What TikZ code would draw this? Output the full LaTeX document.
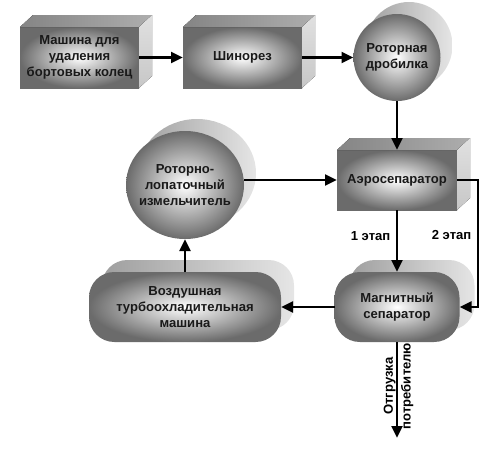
\documentclass[tikz,border=0pt]{standalone}
\usepackage{fontspec}
\setmainfont{Liberation Sans}
\newcommand*{\schemefont}{\fontsize{9.8}{12}\selectfont\bfseries}
\usetikzlibrary{arrows.meta}
\usetikzlibrary{positioning}
\usetikzlibrary{shapes.geometric}
\tikzstyle{base}=[inner sep=0pt, outer sep=0pt, x=0.75pt, y=-0.75pt]
\tikzstyle{front}=[inner color=white, outer color=black!58, align=center, text=black!90]
\tikzstyle{boxtop}=[left color=black!48, right color=black!32]
\tikzstyle{boxside}=[top color=black!12, bottom color=black!22]
\tikzstyle{back}=[left color=black!38, right color=black!10]
\tikzstyle{flow}=[line width=2.1pt, -{Triangle[length=9pt,width=8pt]}]
% top and right faces of a box node
\newcommand*{\boxfaces}[1]{%
    \fill [boxtop] (#1.north west) -- ([shift={(13,-12)}]#1.north west)
        -- ([shift={(13,-12)}]#1.north east) -- (#1.north east) -- cycle;
    \fill [boxside] (#1.north east) -- ([shift={(13,-12)}]#1.north east)
        -- ([shift={(13,-12)}]#1.south east) -- (#1.south east) -- cycle;}

\begin{document}
\begin{tikzpicture}[base, font=\schemefont]
    \useasboundingbox (0,0) rectangle (496,457);
    % boxes
    \node [front, minimum width=89.25pt, minimum height=45.75pt] (mash) at (79.5,57.5) {Машина для\\удаления\\бортовых колец};
    \boxfaces{mash}
    \node [front, minimum width=89.25pt, minimum height=45.75pt] (shin) at (242.5,57.5) {Шинорез};
    \boxfaces{shin}
    \node [front, minimum width=90pt, minimum height=45pt] (aero) at (397,180) {Аэросепаратор};
    \boxfaces{aero}
    % balls
    \node [back, circle, minimum size=65.25pt] (drobback) at (409,45.5) {};
    \node [front, circle, minimum size=65.25pt] (drob) at (397,57.5) {Роторная\\дробилка};
    \node [back, ellipse, minimum width=88.5pt, minimum height=81pt] (izmback) at (197,173) {};
    \node [front, ellipse, minimum width=88.5pt, minimum height=81pt,
        label={[align=center, text=black!90]center:Роторно-\\лопаточный\\измельчитель}] (izm) at (185,185) {};
    % rounded blocks
    \node [back, rounded corners=19pt, minimum width=93.75pt, minimum height=52.5pt] (magnback) at (412,295) {};
    \node [front, rounded corners=19pt, minimum width=93.75pt, minimum height=52.5pt] (magn) at (397,307) {Магнитный\\сепаратор};
    \node [back, rounded corners=19pt, minimum width=144pt, minimum height=52.5pt] (vozdback) at (198,295) {};
    \node [front, rounded corners=19pt, minimum width=144pt, minimum height=52.5pt] (vozd) at (185,307) {Воздушная\\турбоохладительная\\машина};
    % flows
    \draw [flow] (mash) -- (shin);
    \draw [flow] (shin) -- (drob);
    \draw [flow] (drob) -- (aero);
    \draw [flow] (izm.east |- aero.west) -- (aero.west);
    \draw [flow] (aero) -- node [pos=0.42, left=5pt] (stage1) {1 этап} (magn);
    \coordinate (turn) at (478,307);
    \draw [flow] (aero.east) -| (turn) -- (magn.east);
    \node [left=5pt] (stage2) at (478,235) {2 этап};
    \draw [flow] (magn) -- (vozd);
    \draw [flow] (vozd) -- (izm);
    \coordinate (consumer) at (397,438);
    \draw [flow] (magn) -- (consumer);
    \node [rotate=90, align=center, font=\schemefont\linespread{1.1}\selectfont] (otgr) at (398.5,386) {Отгрузка\\потребителю};
\end{tikzpicture}
\end{document}
